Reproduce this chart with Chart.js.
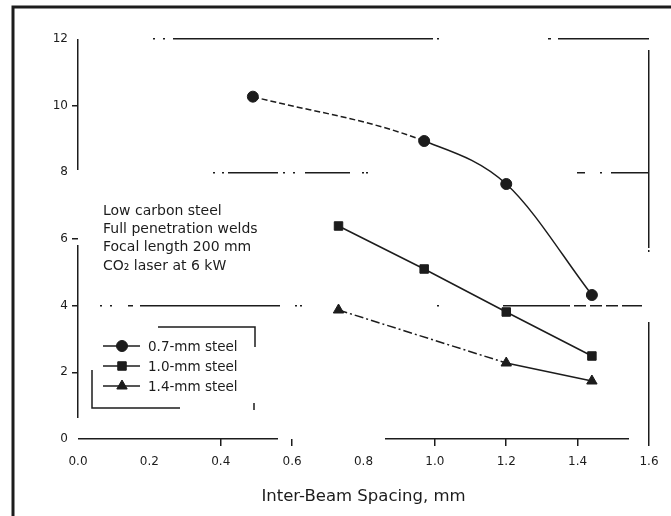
<!DOCTYPE html>
<html>
<head>
<meta charset="utf-8">
<script src="https://cdn.jsdelivr.net/npm/chart.js@4.4.1/dist/chart.umd.min.js"></script>
<style>
  body { margin: 0; background: #fff; }
</style>
</head>
<body>
<canvas id="chart" width="671" height="516"></canvas>
<script>
// values
const spacing07 = [0.49, 0.97, 1.2, 1.44];
const spacing10 = [0.73, 0.97, 1.2, 1.44];
const spacing14 = [0.73, 1.2, 1.44];
const steel07 = [10.27, 8.94, 7.65, 4.32];
const steel10 = [6.39, 5.10, 3.81, 2.49];
const steel14 = [3.87, 2.28, 1.74];
const seriesLabels = ["0.7-mm steel", "1.0-mm steel", "1.4-mm steel"];
const noteLines = ["Low carbon steel", "Full penetration welds", "Focal length 200 mm", "CO\u2082 laser at 6 kW"];
const xTitle = "Inter-Beam Spacing, mm";

const ink = "#1c1c1c";
const font = "DejaVu Sans";

function pts(xs, ys) {
    return xs.map((x, i) => ({x: x, y: ys[i]}));
}

// broken lines of the scan, as dash patterns along each grid line
function yGridDash(v) {
    if (v === 0) return [200, 107, 244, 100];
    if (v === 4) return [0, 22, 2, 8, 2, 16, 5, 7, 140, 15, 2, 3, 2, 135, 2, 64, 67, 4, 12, 4, 12, 4, 12, 4, 20, 100];
    if (v === 8) return [0, 135, 2, 7, 2, 4, 50, 5, 2, 8, 2, 10, 45, 12, 2, 2, 2, 209, 8, 15, 2, 9, 38, 100];
    if (v === 12) return [0, 75, 2, 8, 2, 8, 260, 4, 2, 109, 3, 7, 92, 100];
    return [];
}
function near(a, b) { return Math.abs(a - b) < 1e-6; }

const extras = {
    id: "extras",
    afterDraw(chart) {
        const ctx = chart.ctx;
        ctx.save();
        // outer frame of the scan
        ctx.strokeStyle = ink;
        ctx.lineWidth = 3;
        ctx.beginPath();
        ctx.moveTo(13, 516);
        ctx.lineTo(13, 7);
        ctx.lineTo(671, 7);
        ctx.stroke();

        // notes
        ctx.fillStyle = ink;
        ctx.font = "14px '" + font + "'";
        ctx.textBaseline = "middle";
        noteLines.forEach((t, i) => ctx.fillText(t, 103, 211 + i * 18.3));

        // legend box (broken)
        ctx.lineWidth = 1.5;
        ctx.beginPath();
        ctx.moveTo(158, 327); ctx.lineTo(255, 327); ctx.lineTo(255, 347);
        ctx.moveTo(92, 370); ctx.lineTo(92, 408); ctx.lineTo(180, 408);
        ctx.moveTo(254, 403); ctx.lineTo(254, 410);
        ctx.stroke();

        ctx.font = "13.5px '" + font + "'";
        chart.data.datasets.forEach((ds, i) => {
            const y = 346 + i * 20;
            ctx.strokeStyle = ink;
            ctx.fillStyle = ink;
            ctx.lineWidth = 1.5;
            ctx.beginPath();
            ctx.moveTo(103, y);
            ctx.lineTo(140, y);
            ctx.stroke();
            ctx.lineWidth = 1;
            Chart.helpers.drawPoint(ctx, {pointStyle: ds.pointStyle, radius: ds.pointRadius, rotation: 0, borderWidth: 1}, 122, y);
            ctx.fillText(ds.label, 148, y + 1);
        });
        ctx.restore();
    }
};

new Chart(document.getElementById("chart"), {
    type: "line",
    data: {
        datasets: [{
                label: seriesLabels[0],
                data: pts(spacing07, steel07),
                pointStyle: "circle",
                pointRadius: 5.5,
                cubicInterpolationMode: "monotone",
                segment: {borderDash: c => c.p0DataIndex === 0 ? [6, 3] : undefined}
            }, {
                label: seriesLabels[1],
                data: pts(spacing10, steel10),
                pointStyle: "rect",
                pointRadius: 6
            }, {
                label: seriesLabels[2],
                data: pts(spacing14, steel14),
                pointStyle: "triangle",
                pointRadius: 6,
                segment: {borderDash: c => c.p0DataIndex === 0 ? [9, 3, 2, 3] : undefined}
            }].map(d => Object.assign({
                borderColor: ink,
                backgroundColor: ink,
                borderWidth: 1.5,
                pointBorderWidth: 1,
                tension: 0
            }, d))
    },
    options: {
        responsive: false,
        devicePixelRatio: 1,
        animation: false,
        layout: {padding: {top: 39, right: 22, left: 0, bottom: 0}},
        plugins: {legend: {display: false}, tooltip: {enabled: false}},
        scales: {
            x: {
                type: "linear",
                min: 0,
                max: 1.6,
                afterFit: s => { s.height = 77; },
                border: {
                    display: false,
                    dash: c => near(c.tick.value, 0) ? [131, 75, 173, 100] :
                            near(c.tick.value, 1.6) ? [0, 11, 198, 2, 2, 70, 200] : []
                },
                grid: {
                    lineWidth: 1.5,
                    color: c => (near(c.tick.value, 0) || near(c.tick.value, 1.6)) ? ink : "rgba(0,0,0,0)",
                    tickColor: c => [0.4, 0.6, 1.0, 1.2, 1.4, 1.6].some(v => near(c.tick.value, v)) ? ink : "rgba(0,0,0,0)",
                    tickLength: 7,
                    tickWidth: 1.5
                },
                ticks: {
                    stepSize: 0.2,
                    padding: 9,
                    color: ink,
                    font: {family: font, size: 12},
                    callback: v => v.toFixed(1)
                },
                title: {
                    display: true,
                    text: xTitle,
                    color: ink,
                    font: {family: font, size: 16.5},
                    padding: {top: 0, bottom: 9}
                }
            },
            y: {
                min: 0,
                max: 12,
                afterFit: s => { s.width = 78; },
                border: {display: false, dash: c => yGridDash(c.tick.value)},
                grid: {
                    lineWidth: 1.5,
                    color: c => c.tick.value % 4 === 0 ? ink : "rgba(0,0,0,0)",
                    tickColor: c => [2, 4, 6, 10].includes(c.tick.value) ? ink : "rgba(0,0,0,0)",
                    tickLength: 6,
                    tickWidth: 1.5
                },
                ticks: {
                    stepSize: 2,
                    padding: 4,
                    color: ink,
                    font: {family: font, size: 12}
                }
            }
        }
    },
    plugins: [extras]
});
</script>
</body>
</html>
